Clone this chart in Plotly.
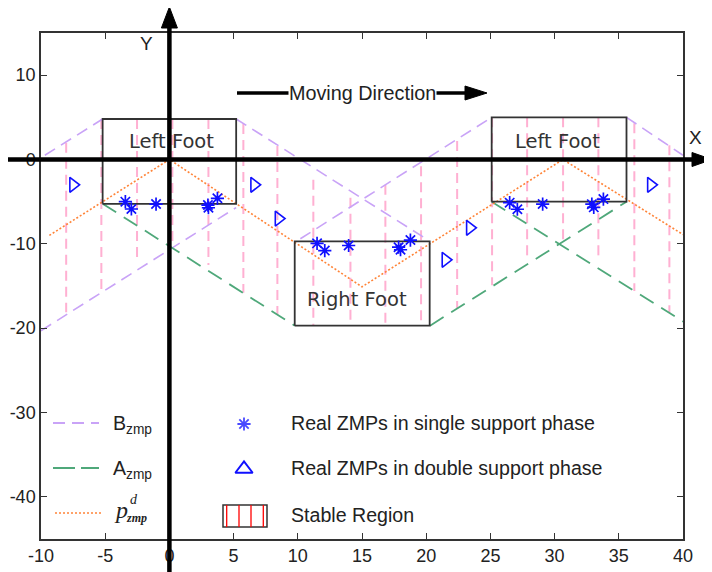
import plotly.graph_objects as go

# ---------------- data ----------------
x_ticks = [-10, -5, 0, 5, 10, 15, 20, 25, 30, 35, 40]
y_ticks = [-40, -30, -20, -10, 0, 10]

# B_zmp (purple dashed) segments: x0, y0, x1, y1
b_x0 = [-9.7, -10.0, 5.2, 10.2, 35.6]
b_y0 = [0.5, -20.3, 4.8, -9.4, 5.0]
b_x1 = [-5.2, 5.2, 20.1, 25.1, 40.0]
b_y1 = [4.8, -5.7, -9.5, 5.0, 0.5]

# A_zmp (green dashed) segments
a_x0 = [-5.2, 20.3, 25.1]
a_y0 = [-5.25, -19.7, -5.0]
a_x1 = [9.76, 35.6, 40.2]
a_y1 = [-19.7, -5.0, -19.4]

# desired ZMP (orange dotted)
p_x = [-9.35, 0.0, 15.0, 30.65, 40.0]
p_y = [-9.0, 0.0, -15.1, 0.0, -8.9]

# stable region vertical samples
s_x = [-8.04, -5.30, -2.52, 0.23, 3.04, 5.76, 8.41, 11.21, 14.10, 16.82,
       19.60, 22.41, 25.13, 27.86, 30.66, 33.41, 36.21, 38.94]
s_top = [2.0, 4.8, 4.8, 4.8, 4.8, 4.2, 1.6, -2.4, -4.55, -3.0,
         -0.8, 2.2, 5.0, 5.0, 5.0, 5.0, 4.3, 1.7]
s_bot = [-18.1, -15.4, -12.1, -10.3, -12.5, -15.8, -18.4, -19.7, -19.7, -19.7,
         -19.7, -17.6, -14.9, -11.5, -10.0, -12.0, -15.6, -18.2]

# feet
foot_names = ["Left Foot", "Right Foot", "Left Foot"]
foot_x0 = [-5.2, 9.76, 25.1]
foot_x1 = [5.2, 20.27, 35.6]
foot_y0 = [-5.25, -19.7, -5.0]
foot_y1 = [4.8, -9.7, 5.0]
foot_lx = [0.2, 14.6, 30.2]
foot_ly = [2.1, -16.6, 2.1]

# real ZMPs
single_x = [-3.43, -2.96, -1.04, 3.04, 3.0, 3.74, 11.5, 12.1, 13.96, 18.0, 17.85, 18.77,
            26.5, 27.1, 29.07, 33.05, 32.9, 33.8]
single_y = [-5.0, -5.87, -5.28, -5.72, -5.4, -4.6, -9.94, -10.8, -10.2, -10.7, -10.4, -9.55,
            -5.12, -5.9, -5.28, -5.67, -5.3, -4.69]
double_x = [-7.5, 6.6, 8.5, 21.5, 23.4, 37.5]
double_y = [-3.0, -3.0, -7.0, -11.9, -8.1, -3.0]

XR = [-10, 40]
YR = [-45, 15]

# ---------------- colours / styles ----------------
C_PURPLE = "#c9a3f7"
C_GREEN = "#4fa87a"
C_ORANGE = "#ff8438"
C_PINK = "#ffb0d2"
C_BLUE = "#1010ff"
C_TXT = "#222222"
FONT = "Liberation Sans"

# page offset of the figure div (default body margin)
OFF = 8
W, H = 712 - OFF, 572 - OFF
# plot area in page pixels
PL, PR, PT, PB = 41, 683, 33, 539
ML, MR, MT, MB = PL - OFF, W - (PR - OFF), PT - OFF, H - (PB - OFF)
PW, PH = PR - PL, PB - PT


def segs(x0, y0, x1, y1):
    xs, ys = [], []
    for a, b, c, d in zip(x0, y0, x1, y1):
        xs += [a, c, None]
        ys += [b, d, None]
    return xs, ys


fig = go.Figure()

# stable-region verticals
vx, vy = segs(s_x, s_top, s_x, s_bot)
fig.add_trace(go.Scatter(x=vx, y=vy, mode="lines",
                         line=dict(color=C_PINK, width=2, dash="10px,6px"),
                         hoverinfo="skip", showlegend=False))

bx, by = segs(b_x0, b_y0, b_x1, b_y1)
fig.add_trace(go.Scatter(x=bx, y=by, mode="lines",
                         line=dict(color=C_PURPLE, width=1.6, dash="12px,7px"),
                         showlegend=False))
ax_, ay_ = segs(a_x0, a_y0, a_x1, a_y1)
fig.add_trace(go.Scatter(x=ax_, y=ay_, mode="lines",
                         line=dict(color=C_GREEN, width=1.8, dash="16px,9px"),
                         showlegend=False))
fig.add_trace(go.Scatter(x=p_x, y=p_y, mode="lines",
                         line=dict(color=C_ORANGE, width=1.6, dash="2px,2px"),
                         showlegend=False))

# feet rectangles
fx, fy = [], []
for a, b, c, d in zip(foot_x0, foot_y0, foot_x1, foot_y1):
    fx += [a, c, c, a, a, None]
    fy += [b, b, d, d, b, None]
fig.add_trace(go.Scatter(x=fx, y=fy, mode="lines",
                         line=dict(color="#333333", width=1.8), showlegend=False))

fig.add_trace(go.Scatter(x=single_x, y=single_y, mode="markers",
                         marker=dict(symbol="asterisk-open", size=11, color=C_BLUE,
                                     line=dict(color=C_BLUE, width=1.7)),
                         showlegend=False))
fig.add_trace(go.Scatter(x=double_x, y=double_y, mode="markers",
                         marker=dict(symbol="triangle-right-open", size=13,
                                     color=C_BLUE, line=dict(color=C_BLUE, width=1.6)),
                         showlegend=False))

for n, lx, ly in zip(foot_names, foot_lx, foot_ly):
    fig.add_annotation(x=lx, y=ly, text=n, showarrow=False,
                       xanchor="center", yanchor="middle",
                       font=dict(family="DejaVu Sans", size=19.5, color="#333333"))

# ---------- legend (overlay axes in page-pixel units) ----------
fig.add_trace(go.Scatter(x=[244], y=[424], xaxis="x2", yaxis="y2", mode="markers",
                         marker=dict(symbol="asterisk-open", size=11, color="#4a4aff",
                                     line=dict(color="#4a4aff", width=1.8)),
                         showlegend=False))
fig.add_trace(go.Scatter(x=[244], y=[469], xaxis="x2", yaxis="y2", mode="markers",
                         marker=dict(symbol="triangle-up-open", size=15,
                                     color=C_BLUE, line=dict(color=C_BLUE, width=2)),
                         showlegend=False))

shapes = []
shapes.append(dict(type="line", xref="x2", yref="y2", x0=53, x1=99, y0=423, y1=423,
                   line=dict(color=C_PURPLE, width=2, dash="12px,7px")))
shapes.append(dict(type="line", xref="x2", yref="y2", x0=53, x1=99, y0=468, y1=468,
                   line=dict(color=C_GREEN, width=2, dash="22px,6px")))
shapes.append(dict(type="line", xref="x2", yref="y2", x0=55, x1=101, y0=513, y1=513,
                   line=dict(color=C_ORANGE, width=1.6, dash="2px,2px")))
shapes.append(dict(type="rect", xref="x2", yref="y2", x0=223, x1=267, y0=505, y1=527,
                   line=dict(color="#333333", width=1.5)))
for rx in [226.7, 239, 251, 263.3]:
    shapes.append(dict(type="line", xref="x2", yref="y2", x0=rx, x1=rx, y0=505, y1=527,
                       line=dict(color="#ff0000", width=1.3)))

legend_texts = [("B<sub>zmp</sub>", 111, 424), ("A<sub>zmp</sub>", 111, 469)]
for t, x, y in legend_texts:
    fig.add_annotation(xref="x2", yref="y2", x=x, y=y, text=t, showarrow=False,
                       xanchor="left", yanchor="middle",
                       font=dict(family=FONT, size=19.6, color=C_TXT))
fig.add_annotation(xref="x2", yref="y2", x=112, y=510, text="<i>p</i>", showarrow=False,
                   xanchor="left", yanchor="middle",
                   font=dict(family="Liberation Serif", size=24, color=C_TXT))
fig.add_annotation(xref="x2", yref="y2", x=128, y=499, text="<i>d</i>", showarrow=False,
                   xanchor="left", yanchor="middle",
                   font=dict(family="Liberation Serif", size=14, color=C_TXT))
fig.add_annotation(xref="x2", yref="y2", x=124, y=518, text="<b><i>zmp</i></b>", showarrow=False,
                   xanchor="left", yanchor="middle",
                   font=dict(family="Liberation Serif", size=12, color=C_TXT))
for t, y in [("Real ZMPs in single support phase", 423),
             ("Real ZMPs in double support phase", 468),
             ("Stable Region", 515)]:
    fig.add_annotation(xref="x2", yref="y2", x=289, y=y, text=t, showarrow=False,
                       xanchor="left", yanchor="middle",
                       font=dict(family=FONT, size=19.6, color=C_TXT))


# ---------- axis arrows (paper coords from page pixels) ----------
def ppx(xp):
    return (xp - PL) / PW


def ppy(yp):
    return (PB - yp) / PH


x0p = (0 - XR[0]) / (XR[1] - XR[0])
y0p = (0 - YR[0]) / (YR[1] - YR[0])
shapes.append(dict(type="line", xref="paper", yref="paper", x0=ppx(7), x1=ppx(695),
                   y0=y0p, y1=y0p, line=dict(color="black", width=4.5)))
shapes.append(dict(type="path", xref="paper", yref="paper",
                   path=f"M {ppx(692)} {y0p + 7/PH} L {ppx(712)} {y0p} L {ppx(692)} {y0p - 7/PH} Z",
                   fillcolor="black", line=dict(color="black", width=1)))
shapes.append(dict(type="line", xref="paper", yref="paper", x0=x0p, x1=x0p,
                   y0=ppy(575), y1=ppy(25), line=dict(color="black", width=4.5)))
shapes.append(dict(type="path", xref="paper", yref="paper",
                   path=f"M {x0p - 8/PW} {ppy(28)} L {x0p} {ppy(7)} L {x0p + 8/PW} {ppy(28)} Z",
                   fillcolor="black", line=dict(color="black", width=1)))
# moving direction arrow
shapes.append(dict(type="line", xref="paper", yref="paper", x0=ppx(237), x1=ppx(468),
                   y0=ppy(93), y1=ppy(93), line=dict(color="black", width=3.5)))
shapes.append(dict(type="path", xref="paper", yref="paper",
                   path=f"M {ppx(465)} {ppy(86)} L {ppx(487)} {ppy(93)} L {ppx(465)} {ppy(100)} Z",
                   fillcolor="black", line=dict(color="black", width=1)))

fig.add_annotation(xref="paper", yref="paper", x=ppx(362), y=ppy(93),
                   xanchor="center", yanchor="middle",
                   text="Moving Direction", showarrow=False, bgcolor="white", borderpad=0,
                   font=dict(family=FONT, size=19.8, color=C_TXT))
fig.add_annotation(xref="paper", yref="paper", x=ppx(695), y=ppy(137), text="X",
                   xanchor="center", yanchor="middle",
                   showarrow=False, font=dict(family=FONT, size=19, color=C_TXT))
fig.add_annotation(xref="paper", yref="paper", x=ppx(146), y=ppy(43), text="Y",
                   xanchor="center", yanchor="middle",
                   showarrow=False, font=dict(family=FONT, size=19, color=C_TXT))

fig.update_layout(
    width=W, height=H,
    margin=dict(l=ML, r=MR, t=MT, b=MB, pad=0, autoexpand=False),
    paper_bgcolor="white", plot_bgcolor="white",
    showlegend=False,
    shapes=shapes,
    xaxis=dict(range=XR, tickvals=x_ticks, ticktext=[str(v) for v in x_ticks],
               showgrid=False, zeroline=False, showline=True, linecolor="#333333",
               linewidth=1.5, mirror="ticks", ticks="inside", ticklen=6, automargin=False,
               tickcolor="#333333", tickfont=dict(family=FONT, size=18, color=C_TXT)),
    yaxis=dict(range=YR, tickvals=y_ticks, ticktext=[str(v) for v in y_ticks],
               showgrid=False, zeroline=False, showline=True, linecolor="#333333",
               linewidth=1.5, mirror="ticks", ticks="inside", ticklen=6, automargin=False,
               tickcolor="#333333", tickfont=dict(family=FONT, size=18, color=C_TXT)),
    xaxis2=dict(range=[PL, PR], overlaying="x", visible=False, anchor="y2",
                automargin=False),
    yaxis2=dict(range=[PB, PT], overlaying="y", visible=False, anchor="x2",
                automargin=False),
)

fig.write_html("out.html")
